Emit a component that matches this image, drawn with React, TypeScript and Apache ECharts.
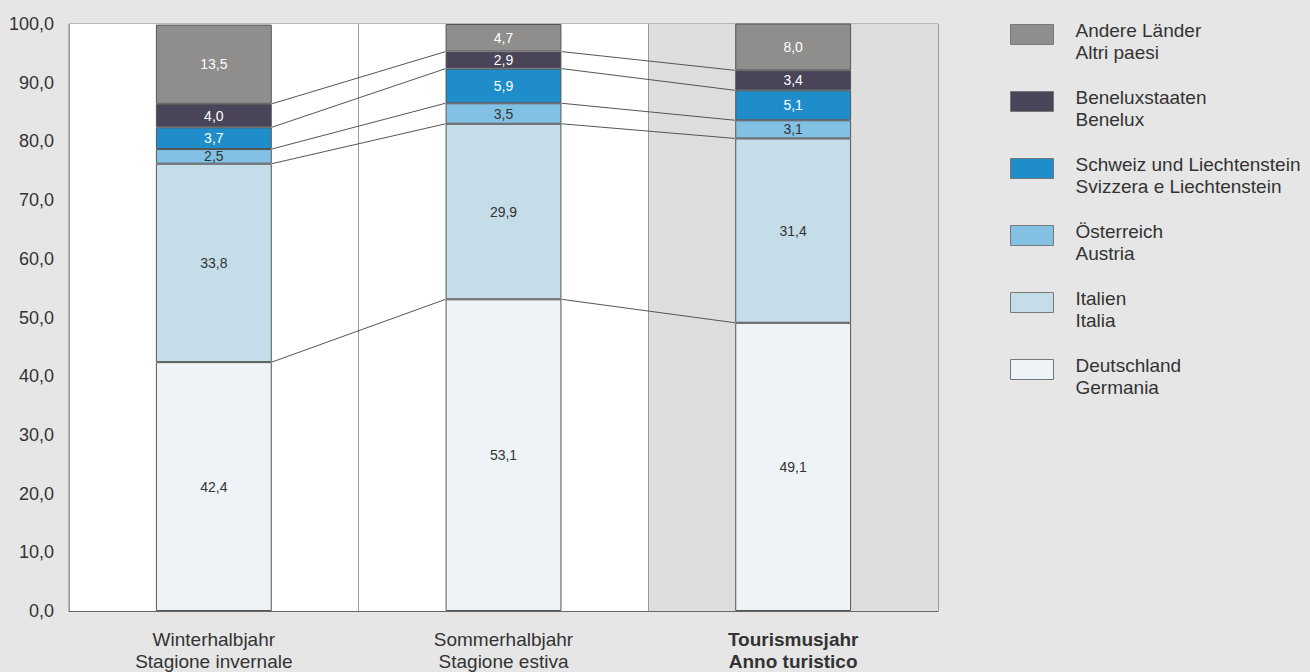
import React, { useEffect, useRef } from "react";
import * as echarts from "echarts";

const categories = ["Winterhalbjahr\nStagione invernale", "Sommerhalbjahr\nStagione estiva", "Tourismusjahr\nAnno turistico"];
const seriesNames = [
  "Deutschland\nGermania",
  "Italien\nItalia",
  "Österreich\nAustria",
  "Schweiz und Liechtenstein\nSvizzera e Liechtenstein",
  "Beneluxstaaten\nBenelux",
  "Andere Länder\nAltri paesi",
];
const deutschland = [42.4, 53.1, 49.1];
const italien = [33.8, 29.9, 31.4];
const oesterreich = [2.5, 3.5, 3.1];
const schweiz = [3.7, 5.9, 5.1];
const benelux = [4.0, 2.9, 3.4];
const andere = [13.5, 4.7, 8.0];
const seriesValues = [deutschland, italien, oesterreich, schweiz, benelux, andere];
const colors = ["#eef3f7", "#c5dde8", "#82c1e3", "#1f8dc9", "#4a4458", "#8f8e8d"];
const labelColors = ["#333", "#333", "#333", "#fff", "#fff", "#fff"];
const gridLineColors = ["#aaa", "#aaa", "#aaa", "#aaa", "#aaa", "#aaa", "#aaa", "#aaa", "#555", "#aaa", "#aaa"];

const fmt = (v: number) => v.toFixed(1).replace(".", ",");

export default function App() {
  const ref = useRef<HTMLDivElement>(null);
  useEffect(() => {
    document.body.style.margin = "0";
    if (!ref.current) return;
    const chart = echarts.init(ref.current, null, { renderer: "svg" });
    const font = "'Liberation Sans', Arial, sans-serif";

    const cum: number[][] = seriesValues.map(() => [0, 0, 0]);
    for (let c = 0; c < categories.length; c++) {
      let s = 0;
      for (let k = 0; k < seriesValues.length; k++) {
        s += seriesValues[k][c];
        cum[k][c] = s;
      }
    }
    const connectorData: number[][] = [];
    for (let c = 0; c < categories.length - 1; c++) {
      for (let k = 0; k < seriesValues.length - 1; k++) {
        connectorData.push([c, cum[k][c], cum[k][c + 1]]);
      }
    }

    const barSeries = seriesValues.map((vals, k) => ({
      name: seriesNames[k],
      type: "bar",
      stack: "total",
      barWidth: "40%",
      z: 3,
      data: vals,
      itemStyle: { color: colors[k], borderColor: "#555", borderWidth: 1 },
      label: {
        show: true,
        position: "inside",
        color: labelColors[k],
        fontSize: 14,
        fontFamily: font,
        formatter: (p: any) => fmt(p.value),
      },
    }));

    chart.setOption({
      animation: false,
      backgroundColor: "#e6e6e6",
      textStyle: { fontFamily: font },
      grid: {
        left: 69,
        right: 372,
        top: 24,
        bottom: 60,
        show: true,
        backgroundColor: "#ffffff",
        borderColor: "#888",
        borderWidth: 1,
      },
      legend: {
        orient: "vertical",
        left: 1005,
        top: 14,
        itemWidth: 43,
        itemHeight: 33,
        itemGap: 23,
        icon: "path://M0,0L43,0L43,20L0,20ZM0,33L0,33",
        data: seriesNames.slice().reverse(),
        itemStyle: { borderColor: "#777", borderWidth: 1 },
        textStyle: {
          fontSize: 19,
          lineHeight: 22,
          color: "#333",
          fontFamily: font,
          padding: [0, 0, 0, 17],
        },
      },
      xAxis: {
        type: "category",
        data: categories.map((c, i) =>
          i === 2 ? { value: c, textStyle: { fontWeight: "bold" } } : c
        ),
        axisLine: { show: true, lineStyle: { color: "#666" } },
        axisTick: { show: false },
        axisLabel: {
          fontSize: 19,
          lineHeight: 22,
          color: "#333",
          margin: 17,
          interval: 0,
          fontFamily: font,
        },
        splitLine: { show: true, interval: 0, lineStyle: { color: "#999" } },
        splitArea: {
          show: true,
          interval: 0,
          areaStyle: { color: ["#ffffff", "#ffffff", "#dedede"] },
        },
      },
      yAxis: {
        type: "value",
        min: 0,
        max: 100,
        interval: 10,
        axisLine: { show: false },
        axisTick: { show: false },
        axisLabel: {
          fontSize: 18,
          color: "#333",
          margin: 15,
          fontFamily: font,
          formatter: (v: number) => fmt(v),
        },
        splitLine: { show: true, lineStyle: { color: gridLineColors } },
      },
      series: [
        ...barSeries,
        {
          type: "custom",
          z: 4,
          silent: true,
          data: connectorData,
          renderItem: (params: any, api: any) => {
            const c = api.value(0);
            const p1 = api.coord([c, api.value(1)]);
            const p2 = api.coord([c + 1, api.value(2)]);
            const bw = api.size([1, 0])[0] * 0.4;
            return {
              type: "line",
              shape: { x1: p1[0] + bw / 2, y1: p1[1], x2: p2[0] - bw / 2, y2: p2[1] },
              style: { stroke: "#555", lineWidth: 1 },
            };
          },
        },
      ],
    });
    return () => chart.dispose();
  }, []);
  return <div ref={ref} style={{ width: 1310, height: 672 }} />;
}
